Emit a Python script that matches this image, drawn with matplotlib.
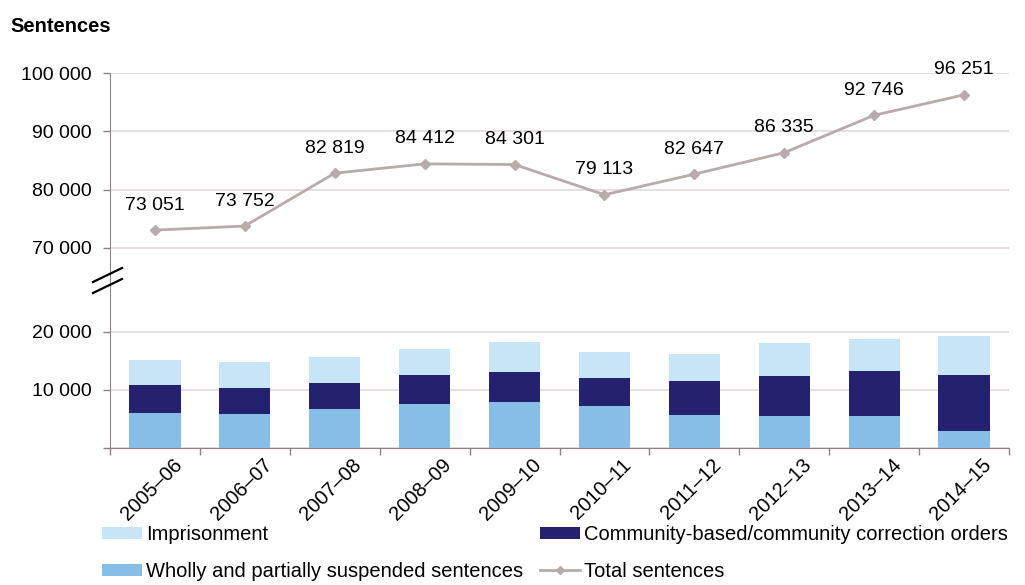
import matplotlib
matplotlib.use("Agg")
import matplotlib.pyplot as plt
import matplotlib.transforms as mtransforms
from matplotlib.lines import Line2D
from matplotlib.patches import Patch
import numpy as np

plt.rcParams['font.family'] = ['Liberation Sans', 'DejaVu Sans']

years = ['2005–06', '2006–07', '2007–08', '2008–09', '2009–10',
         '2010–11', '2011–12', '2012–13', '2013–14', '2014–15']
total = [73051, 73752, 82819, 84412, 84301, 79113, 82647, 86335, 92746, 96251]
suspended = [6000, 5880, 6690, 7650, 7990, 7260, 5710, 5540, 5490, 2970]
community = [4860, 4520, 4460, 4970, 5150, 4850, 5830, 6920, 7710, 9600]
imprisonment = [4290, 4450, 4450, 4360, 5040, 4350, 4630, 5650, 5550, 6740]
labels_fmt = [f"{v:,}".replace(",", " ") for v in total]

C_IMP = '#c7e5f7'
C_SUS = '#86bee8'
C_COM = '#24226e'
C_LINE = '#b7abab'
C_GRID = '#e2dada'
C_SPINE = '#8c8282'
FS = 14

W, H = 1025, 585
fig = plt.figure(figsize=(W / 100, H / 100), dpi=100)

def fx(px):
    return px / W

def fy(py):
    return 1 - py / H

x_left, x_right = 110, 1009
y_top, y_break, y_zero = 73, 280, 448.3
px_per_10k = 58.3

top_lo = 100000 - (y_break - y_top) / px_per_10k * 10000
bot_hi = (y_zero - y_break) / px_per_10k * 10000

ax_top = fig.add_axes([fx(x_left), fy(y_break), fx(x_right - x_left), fy(y_top) - fy(y_break)])
ax_bot = fig.add_axes([fx(x_left), fy(y_zero), fx(x_right - x_left), fy(y_break) - fy(y_zero)])

x = np.arange(len(years))

# bars
bw = 0.57
ax_bot.bar(x, suspended, bw, color=C_SUS, zorder=3)
b1 = np.array(suspended)
ax_bot.bar(x, community, bw, bottom=b1, color=C_COM, zorder=3)
b2 = b1 + np.array(community)
ax_bot.bar(x, imprisonment, bw, bottom=b2, color=C_IMP, zorder=3)

# line
ax_top.plot(x, total, color=C_LINE, lw=2.0, marker='D', ms=5.5, mfc=C_LINE, mec=C_LINE, zorder=3)
for xi, v, lab in zip(x, total, labels_fmt):
    ax_top.annotate(lab, (xi, v), xytext=(0, 18), textcoords='offset points',
                    ha='center', va='center', fontsize=FS, color='black', zorder=4)

for ax in (ax_top, ax_bot):
    ax.set_xlim(-0.5, len(years) - 0.5)
    ax.spines['top'].set_visible(False)
    ax.spines['right'].set_visible(False)
    ax.spines['left'].set_color(C_SPINE)
    ax.spines['bottom'].set_color(C_SPINE)
    ax.grid(axis='y', color=C_GRID, lw=1.2, zorder=0)
    ax.set_axisbelow(True)
    ax.tick_params(axis='y', labelsize=FS, length=5, width=1, color=C_SPINE, pad=8.5)
    ax.set_facecolor('none')

ax_top.set_ylim(top_lo, 100000)
ax_top.set_yticks([70000, 80000, 90000, 100000])
ax_top.set_yticklabels([f"{v:,}".replace(",", " ") for v in [70000, 80000, 90000, 100000]])
ax_top.spines['bottom'].set_visible(False)
ax_top.set_xticks([])

ax_bot.set_ylim(0, bot_hi)
ax_bot.set_yticks([0, 10000, 20000])
ax_bot.set_yticklabels(['', '10 000', '20 000'])
ax_bot.set_xticks(x)
ax_bot.set_xticks(np.arange(-0.5, len(years), 1.0), minor=True)
ax_bot.tick_params(axis='x', which='major', length=0, pad=0)
ax_bot.tick_params(axis='x', which='minor', length=5, width=1, color=C_SPINE)
ax_bot.set_xticklabels(years, rotation=45, ha='right', va='top', rotation_mode='anchor', fontsize=14.5)
offset = mtransforms.ScaledTranslation(12.5 / 72, -5 / 72, fig.dpi_scale_trans)
for lab in ax_bot.get_xticklabels():
    lab.set_transform(lab.get_transform() + offset)

# break marks
for dy in (-5, 6):
    fig.add_artist(Line2D([fx(93), fx(122)], [fy(y_break + dy + 7), fy(y_break + dy - 7)],
                          color='black', lw=1.6))

fig.text(fx(10), fy(27), 'Sentences', fontsize=14.5, fontweight='bold', va='center', ha='left')

# legend
handles = [
    Patch(facecolor=C_IMP, edgecolor='none'),
    Patch(facecolor=C_SUS, edgecolor='none'),
    Patch(facecolor=C_COM, edgecolor='none'),
    Line2D([], [], color=C_LINE, lw=2.0, marker='D', ms=4, mfc=C_LINE, mec=C_LINE),
]
labels = ['Imprisonment', 'Wholly and partially suspended sentences',
          'Community-based/community correction orders', 'Total sentences']
fig.legend(handles, labels, ncol=2, loc='upper left', bbox_to_anchor=(fx(88), fy(511)),
           frameon=False, fontsize=14.5, handlelength=2.0, handleheight=0.55,
           handletextpad=0.2, columnspacing=0.8, labelspacing=0.88, borderpad=0.2)

fig.savefig('out.png', dpi=100)
